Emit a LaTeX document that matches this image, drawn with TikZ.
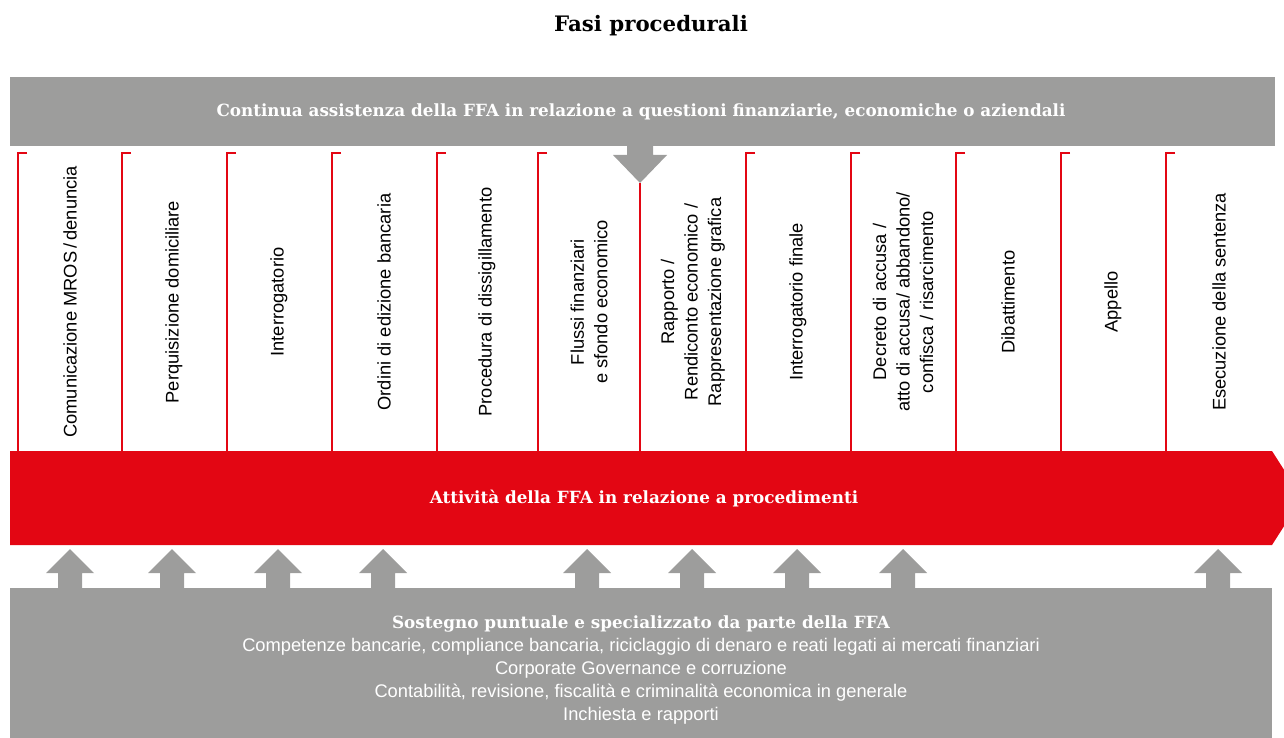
\documentclass[tikz,border=0pt]{standalone}
\usepackage{fontspec}
\setmainfont{Liberation Sans}
\newfontfamily\slabfont{DejaVu Serif}
\usepackage{xcolor}
\definecolor{ffagray}{HTML}{9D9D9C}
\definecolor{ffared}{HTML}{E30613}

\begin{document}
\begin{tikzpicture}[x=1pt,y=-1pt,
		phase/.style={rotate=90,align=center,font=\fontsize{18.3}{23.5}\selectfont},
		bandtext/.style={text=white,font=\slabfont\bfseries\fontsize{16.8}{20}\selectfont},
		redline/.style={ffared,line width=1.6pt}]
			\useasboundingbox (0,0) rectangle (1284,738);
			% draw title
			\node (title) at (651,26) {\slabfont\bfseries\fontsize{21.3}{24}\selectfont Fasi procedurali};
			
			% draw top band and arrow
			\fill[ffagray] (10,77) rectangle (1275,146);
			\fill[ffagray] (627,146) -- (627,155) -- (613,155) -- (640,183) -- (667,155) -- (653,155) -- (653,146) -- cycle;
			\node[bandtext] (assist) at (641,112) {Continua assistenza della FFA in relazione a questioni finanziarie, economiche o aziendali};
			
			% draw red band
			\fill[ffared] (10,451) -- (1272,451) -- (1302,498) -- (1272,545) -- (10,545) -- cycle;
			\node[bandtext] (activity) at (644,499) {Attività della FFA in relazione a procedimenti};
			
			% draw column lines
			\draw[redline] (27,153) -- (18,153) -- (18,451);
			\draw[redline] (131,153) -- (122,153) -- (122,451);
			\draw[redline] (236,153) -- (227,153) -- (227,451);
			\draw[redline] (341,153) -- (332,153) -- (332,451);
			\draw[redline] (446,153) -- (437,153) -- (437,451);
			\draw[redline] (547,153) -- (538,153) -- (538,451);
			\draw[redline] (640,183) -- (640,451);
			\draw[redline] (755,153) -- (746,153) -- (746,451);
			\draw[redline] (860,153) -- (851,153) -- (851,451);
			\draw[redline] (965,153) -- (956,153) -- (956,451);
			\draw[redline] (1070,153) -- (1061,153) -- (1061,451);
			\draw[redline] (1175,153) -- (1166,153) -- (1166,451);
			
			% draw phase nodes
			\node[phase] (mros) at (70,302) {Comunicazione MROS\,/\,denuncia};
			\node[phase] (perq) at (174,302) {Perquisizione domiciliare};
			\node[phase] (interr) at (279,302) {Interrogatorio};
			\node[phase] (edizione) at (384,302) {Ordini di edizione bancaria};
			\node[phase] (dissig) at (487,302) {Procedura di dissigillamento};
			\node[phase] (flussi) at (589,302) {Flussi finanziari\\e sfondo economico};
			\node[phase] (rapporto) at (693,302) {Rapporto /\\Rendiconto economico /\\Rappresentazione grafica};
			\node[phase] (finale) at (798,302) {Interrogatorio finale};
			\node[phase] (decreto) at (903,302) {Decreto di accusa /\\atto di accusa/ abbandono/\\confisca / risarcimento};
			\node[phase] (dibatt) at (1008,302) {Dibattimento};
			\node[phase] (appello) at (1113,302) {Appello};
			\node[phase] (esec) at (1219,302) {Esecuzione della sentenza};
			
			% draw bottom band and arrows
			\fill[ffagray] (10,588) rectangle (1272,738);
			\fill[ffagray] (58,588) -- ++(0,-15) -- ++(-12,0) -- ++(24,-24) -- ++(24,24) -- ++(-12,0) -- ++(0,15) -- cycle;
			\fill[ffagray] (160,588) -- ++(0,-15) -- ++(-12,0) -- ++(24,-24) -- ++(24,24) -- ++(-12,0) -- ++(0,15) -- cycle;
			\fill[ffagray] (266,588) -- ++(0,-15) -- ++(-12,0) -- ++(24,-24) -- ++(24,24) -- ++(-12,0) -- ++(0,15) -- cycle;
			\fill[ffagray] (371,588) -- ++(0,-15) -- ++(-12,0) -- ++(24,-24) -- ++(24,24) -- ++(-12,0) -- ++(0,15) -- cycle;
			\fill[ffagray] (575,588) -- ++(0,-15) -- ++(-12,0) -- ++(24,-24) -- ++(24,24) -- ++(-12,0) -- ++(0,15) -- cycle;
			\fill[ffagray] (680,588) -- ++(0,-15) -- ++(-12,0) -- ++(24,-24) -- ++(24,24) -- ++(-12,0) -- ++(0,15) -- cycle;
			\fill[ffagray] (785,588) -- ++(0,-15) -- ++(-12,0) -- ++(24,-24) -- ++(24,24) -- ++(-12,0) -- ++(0,15) -- cycle;
			\fill[ffagray] (891,588) -- ++(0,-15) -- ++(-12,0) -- ++(24,-24) -- ++(24,24) -- ++(-12,0) -- ++(0,15) -- cycle;
			\fill[ffagray] (1206,588) -- ++(0,-15) -- ++(-12,0) -- ++(24,-24) -- ++(24,24) -- ++(-12,0) -- ++(0,15) -- cycle;
			\node[text=white,align=center,font=\fontsize{18.3}{23}\selectfont] (support) at (641,670)
			{{\slabfont\bfseries\fontsize{16.8}{23}\selectfont Sostegno puntuale e specializzato da parte della FFA}\\
				Competenze bancarie, compliance bancaria, riciclaggio di denaro e reati legati ai mercati finanziari\\
				Corporate Governance e corruzione\\
				Contabilità, revisione, fiscalità e criminalità economica in generale\\
				Inchiesta e rapporti};
			
		\end{tikzpicture}
\end{document}
